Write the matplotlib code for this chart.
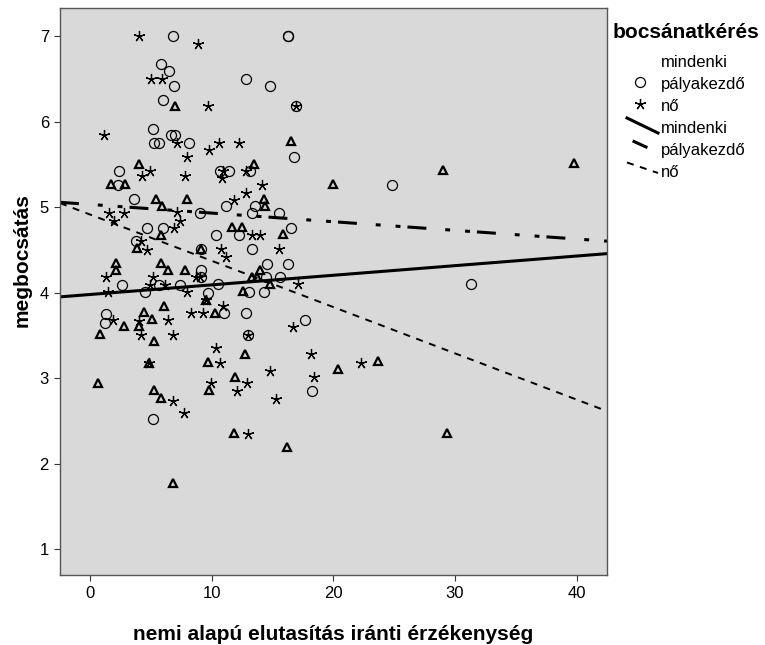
import matplotlib
matplotlib.use("Agg")
import matplotlib.pyplot as plt
from matplotlib.lines import Line2D
import numpy as np

plt.rcParams['font.family'] = ['Liberation Sans', 'DejaVu Sans']

# ---------------- data ----------------
groups = ["mindenki", "pályakezdő", "nő"]

mindenki_x = [7.0, 4.05, 16.5, 13.48, 1.73, 2.88, 5.42, 5.94, 7.94, 5.83, 3.86, 9.1, 2.11, 2.11,
              5.83, 6.38, 7.83, 9.53, 6.08, 4.44, 5.12, 2.8, 4.05, 14.3, 14.4, 20.0, 11.64, 12.5,
              15.9, 13.94, 13.28, 13.7, 14.8, 12.6, 10.27, 12.74, 9.7, 11.9, 9.8, 11.8, 16.2,
              0.85, 5.26, 4.85, 0.63, 5.26, 5.83, 6.82, 28.98, 39.77, 20.4, 23.7, 29.33]
mindenki_y = [6.18, 5.51, 5.77, 5.51, 5.27, 5.27, 5.10, 5.02, 5.10, 4.68, 4.52, 4.51, 4.35, 4.27,
              4.35, 4.27, 4.27, 3.92, 3.85, 3.78, 3.69, 3.61, 3.61, 5.10, 5.02, 5.27, 4.77, 4.77,
              4.69, 4.27, 4.18, 4.18, 4.10, 4.02, 3.76, 3.28, 3.19, 3.02, 2.86, 2.36, 2.20,
              3.52, 3.44, 3.18, 2.94, 2.86, 2.77, 1.78, 5.43, 5.52, 3.11, 3.20, 2.36]

palyakezdo_x = [6.8, 16.27, 16.27, 5.8, 6.47, 6.9, 6.0, 12.82, 14.8, 16.9, 5.15, 6.66, 6.98, 5.26,
                5.7, 8.1, 16.8, 2.4, 10.68, 11.45, 13.15, 2.27, 3.59, 9.04, 4.71, 6.03, 3.75,
                9.1, 9.12, 9.12, 2.6, 5.7, 7.4, 4.52, 9.67, 1.31, 1.23, 11.18, 13.56, 13.3,
                15.5, 12.27, 10.35, 16.5, 13.28, 14.57, 16.3, 14.43, 15.58, 10.52, 13.04, 14.3,
                11.0, 12.82, 17.7, 13.0, 18.27, 5.15, 24.8, 31.36]
palyakezdo_y = [7.0, 7.0, 7.0, 6.67, 6.59, 6.42, 6.25, 6.5, 6.42, 6.18, 5.92, 5.84, 5.84, 5.75,
                5.75, 5.75, 5.59, 5.42, 5.42, 5.42, 5.42, 5.26, 5.10, 4.93, 4.76, 4.76, 4.60,
                4.51, 4.27, 4.18, 4.09, 4.09, 4.09, 4.01, 4.00, 3.75, 3.65, 5.01, 5.01, 4.93,
                4.93, 4.68, 4.68, 4.76, 4.51, 4.34, 4.34, 4.18, 4.18, 4.10, 4.01, 4.01,
                3.76, 3.76, 3.68, 3.51, 2.85, 2.52, 5.26, 4.10]

no_x = [4.05, 8.85, 4.99, 5.94, 9.67, 16.9, 1.12, 7.12, 9.8, 7.94, 4.9, 4.25, 7.83, 10.62, 12.26,
        10.95, 10.82, 12.82, 14.1, 12.82, 11.8, 1.53, 2.8, 1.95, 7.12, 7.37, 6.93, 4.17, 4.71,
        1.31, 5.18, 4.96, 6.19, 1.48, 7.97, 8.74, 9.06, 9.53, 1.89, 6.41, 4.05, 8.3, 9.31,
        13.28, 13.94, 10.74, 11.17, 15.56, 17.06, 10.9, 16.7, 13.0, 10.33, 10.68, 18.16, 14.8,
        18.43, 9.94, 12.93, 12.1, 15.3, 12.96, 4.17, 6.8, 4.85, 6.8, 7.75, 22.3]
no_y = [7.0, 6.91, 6.5, 6.5, 6.18, 6.18, 5.84, 5.75, 5.67, 5.59, 5.42, 5.36, 5.36, 5.75, 5.75,
        5.42, 5.34, 5.42, 5.26, 5.17, 5.09, 4.93, 4.93, 4.84, 4.94, 4.84, 4.76, 4.60, 4.50,
        4.18, 4.18, 4.09, 4.09, 4.01, 4.01, 4.18, 4.18, 3.92, 3.68, 3.68, 3.67, 3.76, 3.76,
        4.68, 4.68, 4.51, 4.42, 4.51, 4.10, 3.85, 3.60, 3.51, 3.35, 3.18, 3.29, 3.09,
        3.02, 2.94, 2.94, 2.85, 2.76, 2.35, 3.51, 3.51, 3.18, 2.74, 2.60, 3.18]

# fit lines (intercept, slope)
fit_intercept = {"mindenki": 3.98, "pályakezdő": 5.033, "nő": 4.915}
fit_slope = {"mindenki": 0.01124, "pályakezdő": -0.0101, "nő": -0.0541}

xticks = [0, 10, 20, 30, 40]
yticks = [1, 2, 3, 4, 5, 6, 7]
xlim = (-2.47, 42.5)
ylim = (0.70, 7.33)

legend_title = "bocsánatkérés"
xlabel = "nemi alapú elutasítás iránti érzékenység"
ylabel = "megbocsátás"

# ---------------- figure ----------------
W, H = 765, 645
fig = plt.figure(figsize=(W / 100, H / 100), dpi=100)
fig.patch.set_facecolor("white")

def fx(px):
    return px / W

def fy(py):
    return 1 - py / H

ax = fig.add_axes([fx(60), fy(575), fx(607) - fx(60), fy(8) - fy(575)])
ax.set_facecolor("#D9D9D9")
for s in ax.spines.values():
    s.set_color("#555555")
    s.set_linewidth(1.0)

ax.set_xlim(*xlim)
ax.set_ylim(*ylim)
ax.set_xticks(xticks)
ax.set_yticks(yticks)
ax.tick_params(axis="both", direction="out", length=4, width=0.8, color="#333333",
               labelsize=12, labelcolor="black", pad=4)

ms_kw = dict(linestyle="none", color="black")
ax.plot(mindenki_x, mindenki_y, marker="^", markersize=6.0, markerfacecolor="none",
        markeredgewidth=1.6, **ms_kw)
ax.plot(palyakezdo_x, palyakezdo_y, marker="o", markersize=7.2, markerfacecolor="none",
        markeredgewidth=0.9, **ms_kw)
ax.plot(no_x, no_y, marker=(5, 2, 0), markersize=8.0, markeredgewidth=0.9, **ms_kw)

xs = np.array(xlim)
line_styles = {
    "mindenki": dict(linestyle="-", linewidth=2.2),
    "pályakezdő": dict(linestyle=(0, (6.2, 6.2, 1.6, 4.9, 1.6, 2.3)), linewidth=2.2),
    "nő": dict(linestyle=(0, (3.6, 3.4)), linewidth=1.4),
}
for g in groups:
    ax.plot(xs, fit_intercept[g] + fit_slope[g] * xs, color="black", **line_styles[g])

fig.text(fx(333.5), fy(634), xlabel, ha="center", va="center", fontsize=15, fontweight="bold")
fig.text(fx(22), fy(260), ylabel, ha="center", va="center", rotation=90, fontsize=15,
         fontweight="bold")

# ---------------- legend ----------------
fig.text(fx(613), fy(38), legend_title, ha="left", va="baseline", fontsize=15, fontweight="bold")
text_x = fx(661)
baselines = [67, 89, 111, 133, 155, 177]
labels = groups + groups
for lab, b in zip(labels, baselines):
    fig.text(text_x, fy(b), lab, ha="left", va="baseline", fontsize=12)

fig.add_artist(Line2D([fx(640)], [fy(82)], marker="o", markersize=7.2, markerfacecolor="none",
                      markeredgewidth=0.9, color="black", linestyle="none"))
fig.add_artist(Line2D([fx(640)], [fy(104)], marker=(5, 2, 0), markersize=8.0,
                      markeredgewidth=0.9, color="black", linestyle="none"))
fig.add_artist(Line2D([fx(627), fx(658)], [fy(118), fy(133)], color="black", linewidth=2.2))
fig.add_artist(Line2D([fx(634), fx(646)], [fy(141.5), fy(147)], color="black", linewidth=2.2))
fig.add_artist(Line2D([fx(627), fx(658)], [fy(162.5), fy(173)], color="black", linewidth=1.4,
                      linestyle=(0, (3.6, 3.4))))

fig.savefig("out.png", dpi=100)
